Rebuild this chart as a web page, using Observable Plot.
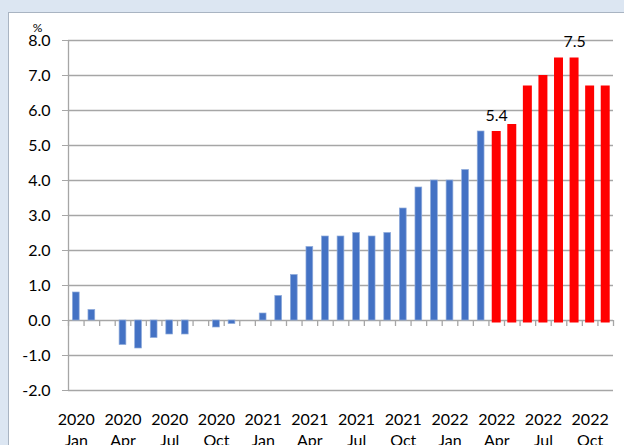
<!DOCTYPE html>
<html>
<head>
<meta charset="utf-8">
<script src="https://cdn.jsdelivr.net/npm/d3@7"></script>
<script src="https://cdn.jsdelivr.net/npm/@observablehq/plot@0.6"></script>
<style>
  html, body { margin: 0; padding: 0; }
  body { width: 624px; height: 445px; background: #dce6f2; position: relative; overflow: hidden; }
  #panel { position: absolute; left: 8px; top: 12px; right: 0; bottom: 0; background: #ffffff;
           border-left: 1px solid #a9b4c2; border-top: 1px solid #a9b4c2; }
  #chart { position: absolute; left: 0; top: 0; }
  #chart svg { background: transparent; }
</style>
</head>
<body>
<div id="panel"></div>
<div id="chart"></div>
<script>
// Periods (monthly), 2020 Jan – 2022 Nov
const periods = [
  "2020 Jan","2020 Feb","2020 Mar","2020 Apr","2020 May","2020 Jun","2020 Jul","2020 Aug","2020 Sep","2020 Oct","2020 Nov","2020 Dec",
  "2021 Jan","2021 Feb","2021 Mar","2021 Apr","2021 May","2021 Jun","2021 Jul","2021 Aug","2021 Sep","2021 Oct","2021 Nov","2021 Dec",
  "2022 Jan","2022 Feb","2022 Mar","2022 Apr","2022 May","2022 Jun","2022 Jul","2022 Aug","2022 Sep","2022 Oct","2022 Nov"
];
// Blue series: 2020 Jan – 2022 Mar (%)
const blueSeries = [0.8, 0.3, 0.0, -0.7, -0.8, -0.5, -0.4, -0.4, 0.0, -0.2, -0.1, 0.0,
                    0.2, 0.7, 1.3, 2.1, 2.4, 2.4, 2.5, 2.4, 2.5, 3.2, 3.8, 4.0,
                    4.0, 4.3, 5.4];
// Red series: 2022 Apr – 2022 Nov (%)
const redSeries = [5.4, 5.6, 6.7, 7.0, 7.5, 7.5, 6.7, 6.7];
// Category axis labels (every third month)
const tickLabels = ["2020\nJan","2020\nApr","2020\nJul","2020\nOct","2021\nJan","2021\nApr","2021\nJul","2021\nOct",
                    "2022\nJan","2022\nApr","2022\nJul","2022\nOct"];
const yTicks = [-2, -1, 0, 1, 2, 3, 4, 5, 6, 7, 8];
const annotations = [{period: "2022 Apr", value: 5.4}, {period: "2022 Sep", value: 7.5}];
const unitLabel = "%";

const blueData = blueSeries.map((v, i) => ({i, value: v}));
const redData = redSeries.map((v, k) => ({i: blueSeries.length + k, value: v}));
const annData = annotations.map(a => ({i: periods.indexOf(a.period), value: a.value, text: a.value.toFixed(1)}));
const tickPos = tickLabels.map((_, k) => k * 3 + 0.5);
const boundaries = d3.range(periods.length + 1);

const grid = "#a6a6a6";

const chart = Plot.plot({
  width: 624,
  height: 445,
  marginLeft: 68,
  marginRight: 11,
  marginTop: 40,
  marginBottom: 55,
  style: {fontFamily: "Lato, 'Open Sans', sans-serif", fontSize: "16px", color: "#000", background: "transparent"},
  x: {type: "linear", domain: [0, periods.length]},
  y: {domain: [-2, 8]},
  marks: [
    Plot.ruleY(yTicks, {stroke: grid, strokeWidth: 1.3}),
    Plot.ruleX([0], {y1: -2, y2: 8, stroke: grid, strokeWidth: 1.3}),
    Plot.ruleX(boundaries, {y1: 0, y2: 0, insetBottom: -6, stroke: grid, strokeWidth: 1.3}),
    Plot.rectY(blueData, {x1: "i", x2: d => d.i + 1, y: "value", fill: "#4472c4", stroke: "#8eaadb", strokeWidth: 0.7, insetLeft: 4.4, insetRight: 4.4}),
    Plot.rectY(redData, {x1: "i", x2: d => d.i + 1, y: "value", fill: "#ff0000", insetLeft: 3.3, insetRight: 3.3, insetBottom: -2.5}),
    Plot.text(annData, {x: d => d.i + 0.5, y: "value", text: "text", lineAnchor: "bottom", dy: -11, fontSize: 16, fill: "#000"}),
    Plot.axisY({ticks: yTicks, tickFormat: d => d.toFixed(1), tickSize: 6, tickPadding: 12, stroke: grid, fontSize: 16, label: null}),
    Plot.axisX({ticks: tickPos, tickFormat: (d) => tickLabels[Math.round((d - 0.5) / 3)], tickSize: 0, tickPadding: 20, lineHeight: 1.3, fontSize: 16, label: null}),
    Plot.text([unitLabel], {frameAnchor: "top-left", textAnchor: "middle", lineAnchor: "middle", dx: -31, dy: -12, fontSize: 12, fill: "#000"})
  ]
});
document.getElementById("chart").appendChild(chart);
</script>
</body>
</html>
